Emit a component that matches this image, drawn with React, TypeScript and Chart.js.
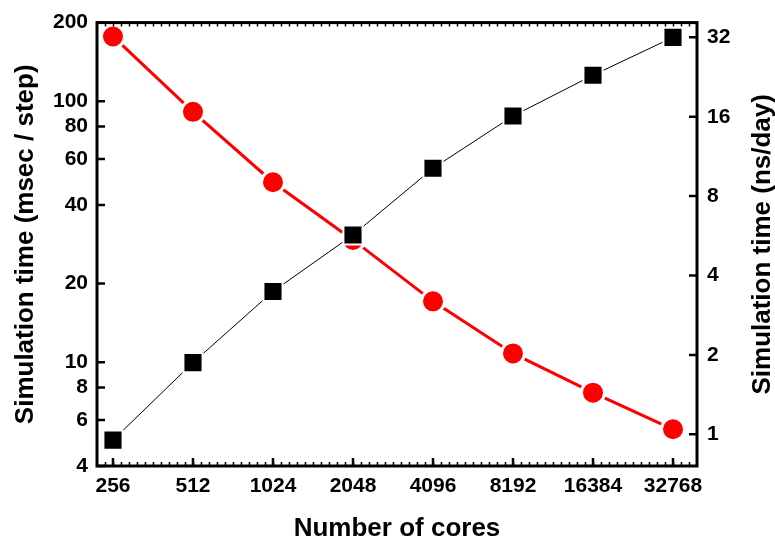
import React, { useEffect, useRef } from "react";
import { Chart, registerables } from "chart.js";

Chart.register(...registerables);

const cores = [256, 512, 1024, 2048, 4096, 8192, 16384, 32768];
const msecPerStep = [177, 91, 48.9, 29.4, 17.1, 10.8, 7.64, 5.53];
const nsPerDay = [0.95, 1.87, 3.48, 5.7, 10.2, 16.1, 23.0, 32.0];
const leftTicks = [4, 6, 8, 10, 20, 40, 60, 80, 100, 200];
const rightTicks = [1, 2, 4, 8, 16, 32];
const xTitle = "Number of cores";
const leftTitle = "Simulation time (msec / step)";
const rightTitle = "Simulation time (ns/day)";

const FONT = "'Liberation Sans', Arial, sans-serif";

const framePlugin = {
  id: "frame",
  afterDatasetsDraw(chart: any) {
    const { ctx, chartArea: a, scales } = chart;
    const x = scales.x;
    const yl = scales.y;
    const yr = scales.y1;
    ctx.save();
    ctx.strokeStyle = "#000";
    ctx.lineCap = "butt";
    // minor ticks on x (top & bottom)
    ctx.lineWidth = 1.5;
    const lo = Math.log2(x.min);
    const hi = Math.log2(x.max);
    ctx.beginPath();
    for (let e = Math.floor(lo * 10); e <= Math.ceil(hi * 10); e++) {
      const v = Math.pow(2, e / 10);
      if (v < x.min || v > x.max) continue;
      const px = Math.round(x.getPixelForValue(v)) + 0.5;
      ctx.moveTo(px, a.bottom);
      ctx.lineTo(px, a.bottom - 4);
      ctx.moveTo(px, a.top);
      ctx.lineTo(px, a.top + 4);
    }
    ctx.stroke();
    // major ticks
    ctx.lineWidth = 2.5;
    ctx.beginPath();
    for (const c of cores) {
      const px = x.getPixelForValue(c);
      ctx.moveTo(px, a.bottom);
      ctx.lineTo(px, a.bottom - 8);
    }
    for (const t of leftTicks) {
      const py = yl.getPixelForValue(t);
      ctx.moveTo(a.left, py);
      ctx.lineTo(a.left + 8, py);
    }
    for (const t of rightTicks) {
      const py = yr.getPixelForValue(t);
      ctx.moveTo(a.right, py);
      ctx.lineTo(a.right - 8, py);
    }
    ctx.stroke();
    // frame
    ctx.lineWidth = 3;
    ctx.strokeRect(a.left, a.top, a.right - a.left, a.bottom - a.top);

    // axis titles
    ctx.fillStyle = "#000";
    ctx.font = `bold 26px ${FONT}`;
    ctx.textAlign = "center";
    ctx.textBaseline = "alphabetic";
    const cx = (a.left + a.right) / 2;
    const cy = (a.top + a.bottom) / 2;
    ctx.fillText(xTitle, cx, 536);
    ctx.save();
    ctx.translate(33, cy);
    ctx.rotate(-Math.PI / 2);
    ctx.fillText(leftTitle, 0, 0);
    ctx.restore();
    ctx.save();
    ctx.translate(770, cy);
    ctx.rotate(-Math.PI / 2);
    ctx.fillText(rightTitle, 0, 0);
    ctx.restore();
    ctx.restore();
  },
};

export default function App() {
  const ref = useRef<HTMLCanvasElement | null>(null);
  useEffect(() => {
    if (!ref.current) return;
    const chart = new Chart(ref.current, {
      type: "line",
      data: {
        datasets: [
          {
            label: "ns/day",
            data: cores.map((c, i) => ({ x: c, y: nsPerDay[i] })),
            yAxisID: "y1",
            borderColor: "#000",
            borderWidth: 1,
            backgroundColor: "#000",
            pointStyle: "rect",
            pointRadius: 13.5,
            pointBorderColor: "#fff",
            pointBorderWidth: 2,
            pointBackgroundColor: "#000",
            order: 0,
          },
          {
            label: "msec/step",
            data: cores.map((c, i) => ({ x: c, y: msecPerStep[i] })),
            yAxisID: "y",
            borderColor: "#ff0000",
            borderWidth: 3,
            backgroundColor: "#ff0000",
            pointStyle: "circle",
            pointRadius: 11.5,
            pointBorderColor: "#fff",
            pointBorderWidth: 3,
            pointBackgroundColor: "#ff0000",
            order: 1,
          },
        ],
      },
      options: {
        animation: false,
        responsive: false,
        maintainAspectRatio: false,
        layout: { padding: { top: 18, left: 0, right: 0, bottom: 0 } },
        plugins: { legend: { display: false }, tooltip: { enabled: false } },
        scales: {
          x: {
            type: "logarithmic",
            min: 222.9,
            max: 40342,
            grid: { display: false, drawTicks: false },
            border: { display: false },
            afterBuildTicks: (s: any) => {
              s.ticks = cores.map((v) => ({ value: v }));
            },
            afterFit: (s: any) => {
              s.height = 73;
            },
            ticks: {
              autoSkip: false,
              maxRotation: 0,
              padding: 8,
              color: "#000",
              font: { family: FONT, size: 21, weight: "bold" },
              callback: (v: any) => String(v),
            },
          },
          y: {
            type: "logarithmic",
            position: "left",
            min: 4,
            max: 200,
            grid: { display: false, drawTicks: false },
            border: { display: false },
            afterBuildTicks: (s: any) => {
              s.ticks = leftTicks.map((v) => ({ value: v }));
            },
            afterFit: (s: any) => {
              s.width = 97;
            },
            ticks: {
              autoSkip: false,
              padding: 9,
              color: "#000",
              font: { family: FONT, size: 21, weight: "bold" },
              callback: (v: any) => String(v),
            },
          },
          y1: {
            type: "logarithmic",
            position: "right",
            min: 0.758,
            max: 36.4,
            grid: { display: false, drawTicks: false },
            border: { display: false },
            afterBuildTicks: (s: any) => {
              s.ticks = rightTicks.map((v) => ({ value: v }));
            },
            afterFit: (s: any) => {
              s.width = 78;
            },
            ticks: {
              autoSkip: false,
              padding: 10,
              color: "#000",
              font: { family: FONT, size: 21, weight: "bold" },
              callback: (v: any) => String(v),
            },
          },
        },
      },
      plugins: [framePlugin],
    });
    return () => chart.destroy();
  }, []);
  return (
    <div style={{ position: "absolute", left: 0, top: 0, width: 775, height: 539 }}>
      <canvas ref={ref} width={775} height={539} style={{ width: 775, height: 539, display: "block" }} />
    </div>
  );
}
